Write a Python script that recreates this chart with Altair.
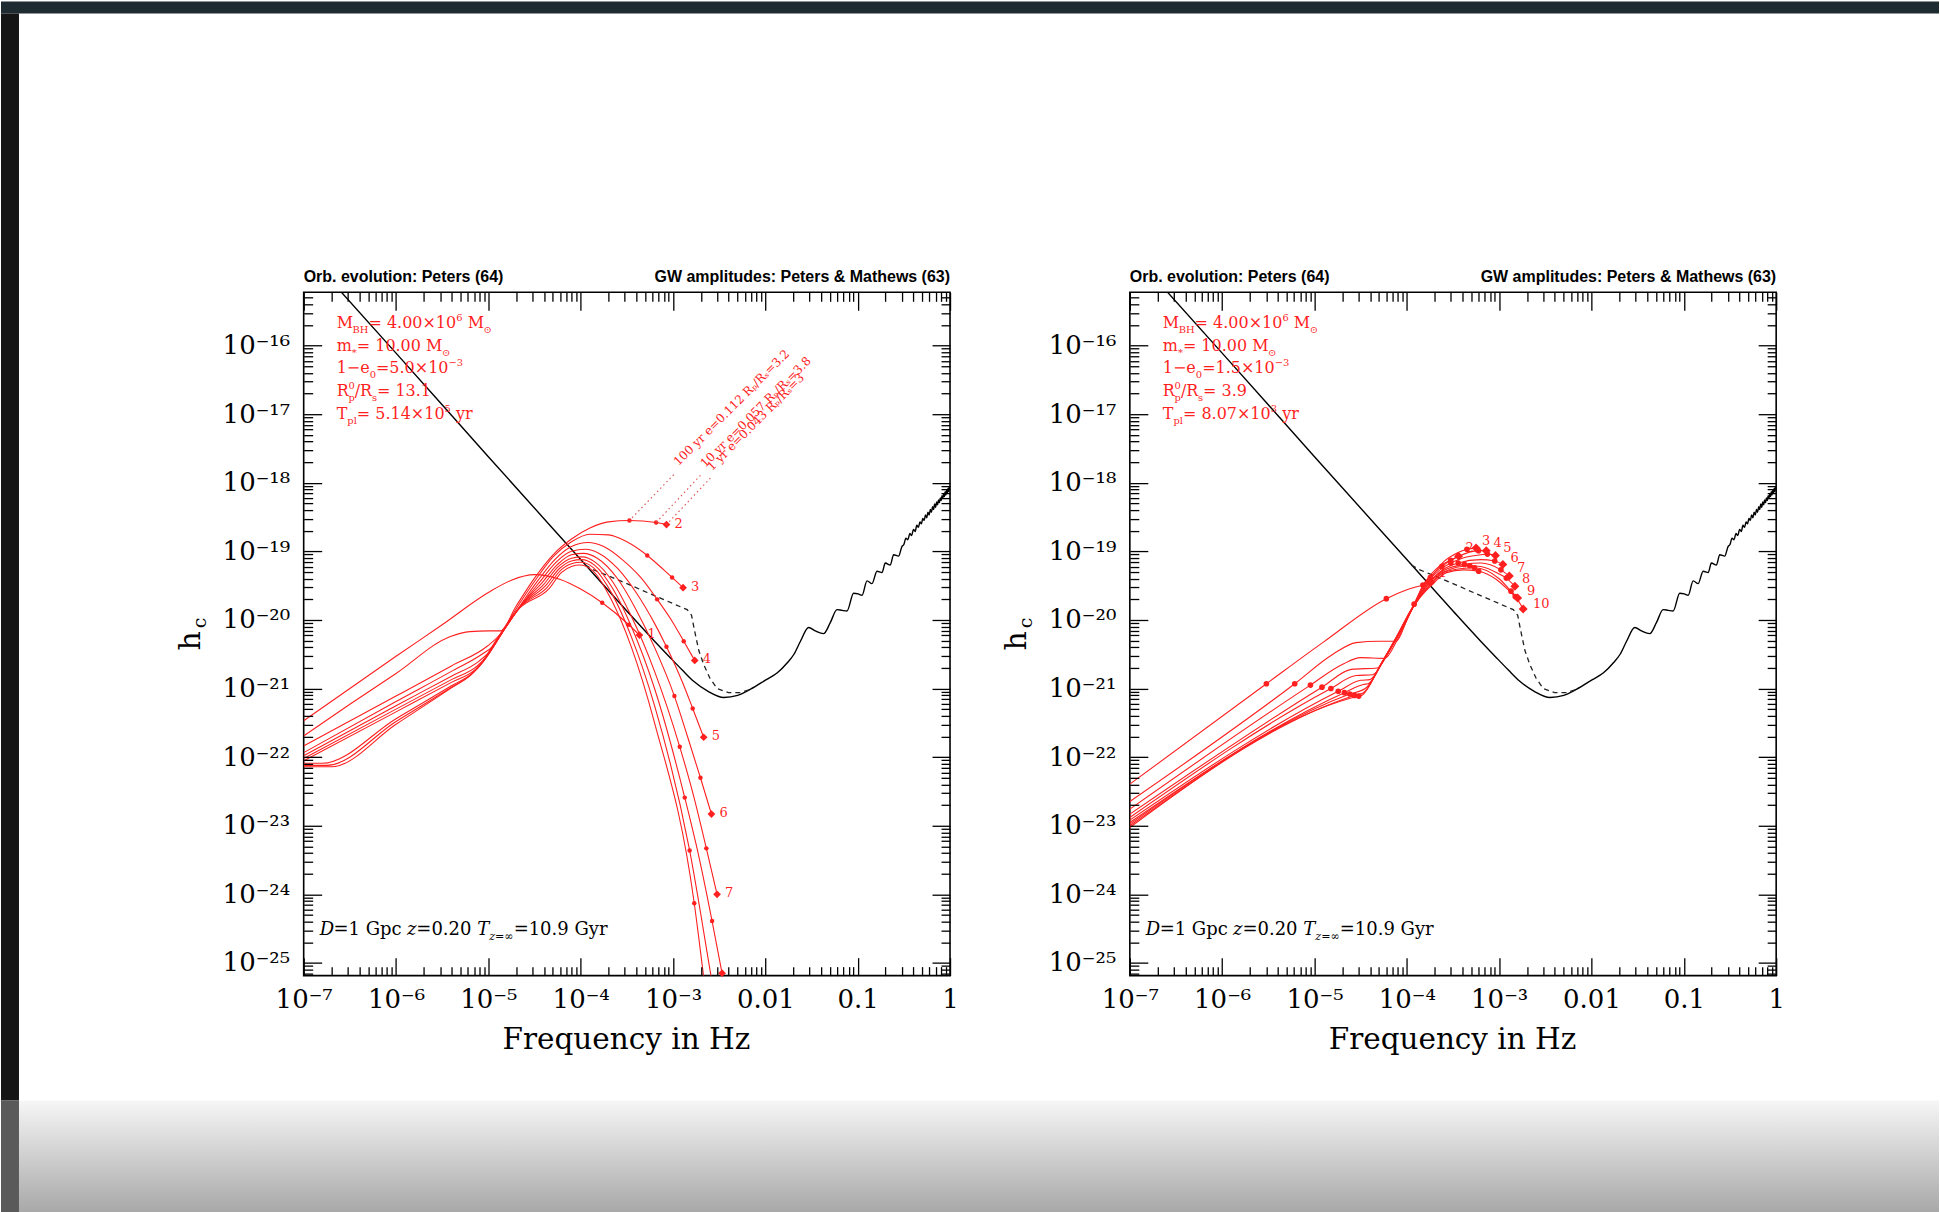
import math
import altair as alt
import pandas as pd

# ================= DATA: log10(frequency / Hz) and log10(h_c) =================
SENS_LOGF = [-6.60, -6.00, -5.00, -4.00, -3.50, -3.20, -3.03, -2.90, -2.78, -2.62, -2.45, -2.30, -2.16,
             -1.99, -1.87, -1.76, -1.69, -1.62, -1.531, -1.459, -1.369, -1.297, -1.224, -1.170, -1.116,
             -1.044, -0.995, -0.953, -0.899, -0.845, -0.791, -0.737, -0.701, -0.647, -0.611, -0.557, -0.521,
             -0.500, -0.478, -0.456, -0.436, -0.415, -0.396, -0.377, -0.360, -0.342, -0.326, -0.310, -0.295,
             -0.280, -0.266, -0.252, -0.239, -0.226, -0.213, -0.201, -0.189, -0.178, -0.167, -0.156, -0.145,
             -0.135, -0.125, -0.115, -0.106, -0.097, -0.087, -0.078, -0.069, -0.061, -0.053, -0.045, -0.037,
             -0.029, -0.021, -0.014, -0.007, 0.0]
SENS_LOGH = [-15.21, -16.11, -17.62, -19.12, -19.87, -20.31, -20.55, -20.73, -20.89, -21.04, -21.13, -21.10, -21.01,
             -20.87, -20.77, -20.62, -20.50, -20.31, -20.11, -20.16, -20.20, -20.04, -19.85, -19.86, -19.87,
             -19.61, -19.62, -19.64, -19.43, -19.47, -19.29, -19.31, -19.17, -19.20, -19.05, -19.07, -18.93,
             -18.90, -18.81, -18.83, -18.74, -18.77, -18.68, -18.71, -18.62, -18.65, -18.57, -18.60, -18.52,
             -18.55, -18.47, -18.51, -18.43, -18.47, -18.39, -18.43, -18.35, -18.39, -18.31, -18.36, -18.28,
             -18.32, -18.25, -18.29, -18.22, -18.26, -18.19, -18.23, -18.16, -18.20, -18.13, -18.18, -18.11,
             -18.15, -18.08, -18.13, -18.06, -18.10]

DASH_LOGF = [-3.95, -3.858, -3.50, -3.28, -2.847, -2.80, -2.76, -2.72, -2.668, -2.60, -2.523, -2.40, -2.271, -2.16]
DASH_LOGH = [-19.20, -19.27, -19.47, -19.60, -19.85, -19.93, -20.20, -20.45, -20.65, -20.85, -21.00, -21.06, -21.06, -21.01]

# ---- left panel harmonics n = 1..10 ----
L1_LOGF = [-7.0, -6.5, -6.0, -5.5, -5.0, -4.75, -4.5, -4.22, -4.0, -3.767, -3.479, -3.364]
L1_LOGH = [-21.47, -21.0, -20.53, -20.07, -19.6, -19.42, -19.34, -19.41, -19.55, -19.75, -20.07, -20.22]
L2_LOGF = [-7.0, -6.5, -6.0, -5.41, -5.2, -5.0, -4.87, -4.7, -4.5, -4.3, -4.1, -3.9, -3.7, -3.472, -3.183, -3.071]
L2_LOGH = [-21.69, -21.23, -20.78, -20.24, -20.17, -20.16, -20.16, -19.80, -19.39, -19.05, -18.82, -18.66, -18.57, -18.55, -18.58, -18.61]
L3_LOGF = [-7.0, -6.0, -5.4, -5.01, -4.86, -4.7, -4.48, -4.3, -4.1, -3.9, -3.7, -3.5, -3.279, -3.1, -3.01, -2.891]
L3_LOGH = [-21.837, -21.11, -20.67, -20.38, -20.19, -19.84, -19.40, -19.08, -18.86, -18.75, -18.76, -18.86, -19.06, -19.27, -19.38, -19.53]
L4_LOGF = [-7.0, -6.0, -5.4, -5.07, -4.95, -4.8, -4.62, -4.46, -4.28, -4.1, -3.92, -3.75, -3.55, -3.35, -3.172, -3.0, -2.884, -2.765]
L4_LOGH = [-21.934, -21.19, -20.75, -20.50, -20.38, -20.08, -19.72, -19.42, -19.12, -18.93, -18.87, -18.93, -19.12, -19.38, -19.70, -20.04, -20.31, -20.59]
L5_LOGF = [-7.0, -6.0, -5.4, -5.10, -4.98, -4.82, -4.62, -4.44, -4.26, -4.1, -3.95, -3.8, -3.6, -3.4, -3.2, -3.071, -2.9, -2.787, -2.668]
L5_LOGH = [-21.98, -21.25, -20.82, -20.60, -20.45, -20.12, -19.74, -19.44, -19.15, -19.0, -18.97, -19.03, -19.25, -19.6, -20.05, -20.39, -20.9, -21.29, -21.71]
L6_LOGF = [-7.0, -6.0, -5.4, -5.12, -5.0, -4.84, -4.63, -4.42, -4.25, -4.1, -3.97, -3.82, -3.6, -3.4, -3.2, -2.985, -2.85, -2.703, -2.584]
L6_LOGH = [-22.02, -21.30, -20.87, -20.67, -20.50, -20.16, -19.76, -19.46, -19.19, -19.05, -19.03, -19.1, -19.4, -19.85, -20.4, -21.11, -21.67, -22.30, -22.83]
L7_LOGF = [-7.0, -6.0, -5.4, -5.14, -5.02, -4.85, -4.64, -4.40, -4.24, -4.1, -3.98, -3.84, -3.65, -3.45, -3.2, -2.927, -2.78, -2.639, -2.523]
L7_LOGH = [-22.055, -21.34, -20.91, -20.72, -20.54, -20.19, -19.78, -19.48, -19.22, -19.1, -19.08, -19.16, -19.45, -19.95, -20.75, -21.85, -22.55, -23.33, -24.0]
L8_LOGF = [-7.0, -6.8, -6.0, -5.4, -5.16, -5.04, -4.87, -4.65, -4.38, -4.23, -4.1, -3.99, -3.85, -3.65, -3.45, -3.2, -2.873, -2.72, -2.577, -2.469]
L8_LOGH = [-22.09, -22.09, -21.44, -20.96, -20.76, -20.58, -20.22, -19.80, -19.5, -19.25, -19.14, -19.12, -19.2, -19.55, -20.1, -21.0, -22.59, -23.45, -24.39, -25.15]
L9_LOGF = [-7.0, -6.75, -6.0, -5.4, -5.17, -5.05, -4.88, -4.66, -4.36, -4.22, -4.1, -4.0, -3.86, -3.66, -3.45, -3.2, -2.82, -2.59, -2.55]
L9_LOGH = [-22.12, -22.12, -21.48, -20.98, -20.78, -20.60, -20.24, -19.82, -19.52, -19.28, -19.18, -19.16, -19.24, -19.62, -20.25, -21.25, -23.36, -25.18, -25.5]
L10_LOGF = [-7.0, -6.7, -6.0, -5.4, -5.19, -5.07, -4.9, -4.67, -4.34, -4.21, -4.1, -4.01, -3.87, -3.67, -3.45, -3.2, -2.77, -2.67, -2.63]
L10_LOGH = [-22.14, -22.14, -21.52, -20.99, -20.80, -20.62, -20.26, -19.84, -19.54, -19.31, -19.22, -19.2, -19.28, -19.7, -20.4, -21.5, -24.13, -25.18, -25.6]

LDOT_LOGF = [-3.767, -3.479, -3.472, -3.183, -3.279, -3.01, -3.172, -2.884, -3.071, -2.787,
             -2.985, -2.703, -2.927, -2.639, -2.873, -2.577, -2.82, -2.77]
LDOT_LOGH = [-19.75, -20.07, -18.55, -18.58, -19.06, -19.38, -19.70, -20.31, -20.39, -21.29,
             -21.11, -22.30, -21.85, -23.33, -22.59, -24.39, -23.36, -24.13]
LEND_LOGF = [-3.364, -3.071, -2.891, -2.765, -2.668, -2.584, -2.523, -2.469]
LEND_LOGH = [-20.22, -18.61, -19.53, -20.59, -21.71, -22.83, -24.0, -25.15]
LEND_LABEL = ["1", "2", "3", "4", "5", "6", "7", ""]

# time-marker call-outs on the n=2 curve (left panel)
CONN_LOGF1 = [-2.992, -2.703, -2.595]
CONN_LOGH1 = [-17.882, -17.892, -17.932]
CONN_LOGF2 = [-3.472, -3.183, -3.071]
CONN_LOGH2 = [-18.55, -18.58, -18.61]
ROT_TEXT = ["100 yr e=0.112 Rₚ/Rₛ=3.2", "10 yr e=0.057 Rₚ/Rₛ=3.8", "1 yr e=0.043 Rₚ/Rₛ=3"]
ROT_LOGF = [-2.942, -2.650, -2.577]
ROT_LOGH = [-17.76, -17.786, -17.834]

# ---- right panel harmonics n = 1..10 ----
R1_LOGF = [-7.0, -5.521, -4.9, -4.222, -4.0, -3.826, -3.74]
R1_LOGH = [-22.394, -20.93, -20.32, -19.69, -19.56, -19.49, -19.45]
R2_LOGF = [-7.0, -5.214, -4.8, -4.55, -4.3, -4.115, -4.0, -3.921, -3.8, -3.65, -3.525, -3.44]
R2_LOGH = [-22.647, -20.93, -20.5, -20.33, -20.31, -20.31, -20.0, -19.77, -19.45, -19.22, -19.13, -19.07]
R3_LOGF = [-7.0, -5.044, -4.7, -4.5, -4.24, -4.1, -3.93, -3.8, -3.745, -3.6, -3.45, -3.349, -3.25]
R3_LOGH = [-22.758, -20.95, -20.65, -20.55, -20.56, -20.28, -19.8, -19.44, -19.38, -19.15, -19.02, -18.97, -18.95]
R4_LOGF = [-7.0, -4.919, -4.6, -4.32, -4.2, -4.05, -3.92, -3.79, -3.62, -3.45, -3.224, -3.14]
R4_LOGH = [-22.831, -20.98, -20.72, -20.70, -20.48, -20.12, -19.78, -19.45, -19.22, -19.08, -18.99, -18.99]
R5_LOGF = [-7.0, -4.822, -4.55, -4.37, -4.22, -4.06, -3.92, -3.78, -3.6, -3.523, -3.4, -3.2, -3.127, -3.04]
R5_LOGH = [-22.879, -21.0, -20.81, -20.80, -20.52, -20.14, -19.79, -19.46, -19.23, -19.17, -19.1, -19.05, -19.04, -19.06]
R6_LOGF = [-7.0, -4.743, -4.5, -4.4, -4.24, -4.07, -3.93, -3.77, -3.6, -3.444, -3.2, -3.048, -2.96]
R6_LOGH = [-22.918, -21.04, -20.88, -20.87, -20.55, -20.16, -19.80, -19.47, -19.26, -19.17, -19.12, -19.14, -19.19]
R7_LOGF = [-7.0, -4.676, -4.47, -4.42, -4.25, -4.08, -3.93, -3.76, -3.6, -3.377, -3.2, -2.981, -2.89]
R7_LOGH = [-22.953, -21.06, -20.94, -20.93, -20.58, -20.18, -19.81, -19.47, -19.28, -19.19, -19.17, -19.27, -19.36]
R8_LOGF = [-7.0, -4.618, -4.45, -4.26, -4.09, -3.94, -3.75, -3.6, -3.319, -3.2, -3.0, -2.923, -2.83]
R8_LOGH = [-22.976, -21.08, -21.0, -20.6, -20.2, -19.82, -19.48, -19.3, -19.21, -19.22, -19.33, -19.39, -19.51]
R9_LOGF = [-7.0, -4.567, -4.47, -4.27, -4.1, -3.94, -3.74, -3.6, -3.4, -3.268, -3.0, -2.872, -2.8]
R9_LOGH = [-23.001, -21.10, -21.06, -20.62, -20.22, -19.83, -19.48, -19.31, -19.25, -19.24, -19.4, -19.58, -19.68]
R10_LOGF = [-7.0, -4.521, -4.49, -4.28, -4.11, -3.95, -3.73, -3.57, -3.39, -3.222, -3.03, -2.85, -2.826, -2.74]
R10_LOGH = [-23.026, -21.11, -21.1, -20.64, -20.24, -19.84, -19.49, -19.31, -19.27, -19.29, -19.41, -19.63, -19.66, -19.84]

RDOT_LOGF = [-5.521, -4.222, -3.826, -5.214, -3.921, -3.525, -5.044, -3.745, -3.349, -4.919, -3.62, -3.224,
             -4.822, -3.523, -3.127, -4.743, -3.444, -3.048, -4.676, -3.377, -2.981, -4.618, -3.319, -2.923,
             -4.567, -3.268, -2.872, -4.521, -3.222, -2.826]
RDOT_LOGH = [-20.93, -19.69, -19.49, -20.93, -19.77, -19.13, -20.95, -19.38, -18.97, -20.98, -19.22, -18.99,
             -21.0, -19.17, -19.04, -21.04, -19.17, -19.14, -21.06, -19.19, -19.27, -21.08, -19.21, -19.39,
             -21.10, -19.24, -19.58, -21.11, -19.29, -19.66]
REND_LOGF = [-3.74, -3.44, -3.25, -3.14, -3.04, -2.96, -2.89, -2.83, -2.80, -2.74]
REND_LOGH = [-19.45, -19.07, -18.95, -18.99, -19.06, -19.19, -19.36, -19.51, -19.68, -19.84]
# where the harmonic numbers are written (arc around the end points)
RLAB_TEXT = ["1", "2", "3", "4", "5", "6", "7", "8", "9", "10"]
RLAB_LOGF = [-3.613, -3.320, -3.140, -3.017, -2.912, -2.833, -2.761, -2.707, -2.653, -2.544]
RLAB_LOGH = [-19.314, -18.951, -18.843, -18.878, -18.951, -19.096, -19.242, -19.410, -19.581, -19.774]

X_TICK_LABELS = ["10⁻⁷", "10⁻⁶", "10⁻⁵", "10⁻⁴", "10⁻³", "0.01", "0.1", "1"]
Y_TICK_LABELS = ["10⁻²⁵", "10⁻²⁴", "10⁻²³", "10⁻²²", "10⁻²¹", "10⁻²⁰", "10⁻¹⁹", "10⁻¹⁸", "10⁻¹⁷", "10⁻¹⁶"]

# ================= styling / layout =================
W, H = 647, 684
LOGY_MIN, LOGY_MAX = -25.185, -15.224
RED = "#ff1f1f"
SERIF = "DejaVu Serif"
XS = alt.Scale(type="log", domain=[1e-7, 1.0], nice=False)
YS = alt.Scale(type="log", domain=[10 ** LOGY_MIN, 10 ** LOGY_MAX], nice=False)
DUMMY = pd.DataFrame({"k": [0]})


def curves_df(pairs):
    rows = []
    for cid, (lf, lh) in enumerate(pairs, start=1):
        for i, (a, b) in enumerate(zip(lf, lh)):
            rows.append({"f": 10 ** a, "h": 10 ** b, "id": cid, "i": i})
    return pd.DataFrame(rows)


def pts_df(lf, lh, labels=None):
    d = pd.DataFrame({"f": [10 ** a for a in lf], "h": [10 ** b for b in lh]})
    if labels is not None:
        d["lab"] = labels
    return d


CW = {" ": .318, ".": .318, "=": .838, "×": .838, "−": .838, "-": .338, "/": .337, "*": .5, "(": .39, ")": .39,
      "M": .995, "B": .734, "H": .872, "R": .735, "T": .667, "D": .77, "G": .775, "⊙": .8, "∞": .833,
      "p": .64, "l": .32, "s": .513, "e": .592, "m": .948, "y": .592, "r": .478, "c": .556, "z": .525}


def tw(s):
    return sum(CW.get(ch, .636) for ch in s)


def rich(x0, y0, segs, size, color):
    rows, x = [], x0
    for txt, kind in segs:
        if kind in ("n", "i"):
            s, dy = size, 0.0
        elif kind in ("sub", "isub"):
            s, dy = size * 0.62, size * 0.30
        else:
            s, dy = size * 0.62, -size * 0.45
        body = txt.lstrip(" ")
        lead = (len(txt) - len(body)) * CW[" "] * s
        rows.append({"x": x + lead, "y": y0 + dy, "t": body, "s": s, "it": kind in ("i", "isub"), "c": color})
        if kind != "sup0":
            x += tw(txt) * s
    return rows


def annot_rows(e0, rp, tpl, tpl_exp):
    size, x0 = 16, 33
    ys = [36, 59, 81, 104, 127]
    rows = []
    rows += rich(x0, ys[0], [("M", "n"), ("BH", "sub"), ("= 4.00×10", "n"), ("6", "sup"), (" M", "n"), ("⊙", "sub")], size, RED)
    rows += rich(x0, ys[1], [("m", "n"), ("*", "sub"), ("= 10.00 M", "n"), ("⊙", "sub")], size, RED)
    rows += rich(x0, ys[2], [("1−e", "n"), ("0", "sub"), ("=" + e0 + "×10", "n"), ("−3", "sup")], size, RED)
    rows += rich(x0, ys[3], [("R", "n"), ("0", "sup0"), ("p", "sub"), ("/R", "n"), ("s", "sub"), ("= " + rp, "n")], size, RED)
    rows += rich(x0, ys[4], [("T", "n"), ("pl", "sub"), ("= " + tpl + "×10", "n"), (tpl_exp, "sup"), (" yr", "n")], size, RED)
    rows += rich(16, 643, [("D", "i"), ("=1 Gpc ", "n"), ("z", "i"), ("=0.20 ", "n"), ("T", "i"),
                           ("z=∞", "isub"), ("=10.9 Gyr", "n")], 18, "black")
    return pd.DataFrame(rows)


XLAB = "[" + ",".join("'%s'" % s for s in X_TICK_LABELS) + "][round(log(datum.value)/LN10)+7]"
YLAB = "[" + ",".join("'%s'" % s for s in Y_TICK_LABELS) + "][round(log(datum.value)/LN10)+25]"
DEC_X = [10.0 ** e for e in range(-7, 1)]
MIN_X = [k * 10.0 ** e for e in range(-7, 0) for k in range(2, 10)]
DEC_Y = [10.0 ** e for e in range(-25, -15)]
MIN_Y = [k * 10.0 ** e for e in range(-26, -15) for k in range(2, 10)
         if LOGY_MIN < math.log10(k * 10.0 ** e) < LOGY_MAX]


def axis(orient, kind, channel):
    vals = (DEC_X if kind != "minor" else MIN_X) if channel == "x" else (DEC_Y if kind != "minor" else MIN_Y)
    common = dict(orient=orient, values=vals, grid=False, domain=False, title=None, zindex=1)
    if kind == "label":
        return alt.Axis(**common, ticks=False, labels=True, labelExpr=XLAB if channel == "x" else YLAB,
                        labelFont=SERIF, labelFontSize=26, labelColor="black",
                        labelPadding=11 if channel == "x" else 14, labelFlush=False, labelOverlap=False)
    size = 18 if kind == "major" else 9
    return alt.Axis(**common, ticks=True, tickSize=size, offset=-size, labels=False,
                    tickColor="black", tickWidth=1.3)


sens_df = pts_df(SENS_LOGF, SENS_LOGH)
sens_df["i"] = range(len(sens_df))
dash_df = pts_df(DASH_LOGF, DASH_LOGH)
dash_df["i"] = range(len(dash_df))


def carrier(xa, ya):
    return alt.Chart(sens_df).mark_line(opacity=0).encode(
        x=alt.X("f:Q", scale=XS, axis=xa), y=alt.Y("h:Q", scale=YS, axis=ya))


def vtext(txt, x, y, size, angle=0, align="center", font=SERIF, color="black", weight="normal"):
    return alt.Chart(DUMMY).mark_text(text=txt, font=font, fontSize=size, angle=angle, align=align,
                                      baseline="middle", color=color, fontWeight=weight).encode(
        x=alt.value(x), y=alt.value(y))


def vrect(x1, x2, y1, y2, color, opacity=1.0):
    return alt.Chart(DUMMY).mark_rect(color=color, opacity=opacity).encode(
        x=alt.value(x1), x2=alt.value(x2), y=alt.value(y1), y2=alt.value(y2))


def XE(field="f"):
    return alt.X(field + ":Q", scale=XS, axis=None)


def YE(field="h"):
    return alt.Y(field + ":Q", scale=YS, axis=None)


def panel(left):
    layers = []
    if left:
        # invisible frame that fixes the canvas at 1940 x 1212 with the plot origin at (303, 291)
        layers.append(vrect(-303, 1637, -291, 921, "#ffffff", opacity=0))
        # slide decoration around the figure (outside the plot areas)
        layers.append(vrect(-303, 1637, -291, -279, "#1e2b31"))
        layers.append(vrect(-303, -285, -279, 809, "#151515"))
        grad = alt.Gradient(gradient="linear", x1=0, x2=0, y1=0, y2=1,
                            stops=[alt.GradientStop(color="#f6f6f6", offset=0),
                                   alt.GradientStop(color="#a8a8a8", offset=1)])
        layers.append(alt.Chart(DUMMY).mark_rect(color=grad).encode(
            x=alt.value(-285), x2=alt.value(1637), y=alt.value(809), y2=alt.value(921)))
        layers.append(vrect(-303, -285, 809, 921, "#5a5a5a"))

    if left:
        pairs = [(L1_LOGF, L1_LOGH), (L2_LOGF, L2_LOGH), (L3_LOGF, L3_LOGH), (L4_LOGF, L4_LOGH),
                 (L5_LOGF, L5_LOGH), (L6_LOGF, L6_LOGH), (L7_LOGF, L7_LOGH), (L8_LOGF, L8_LOGH),
                 (L9_LOGF, L9_LOGH), (L10_LOGF, L10_LOGH)]
        dots = pts_df(LDOT_LOGF, LDOT_LOGH)
        ends = pts_df(LEND_LOGF, LEND_LOGH)
        labs = pts_df(LEND_LOGF, LEND_LOGH, LEND_LABEL)
        ann = annot_rows("5.0", "13.1", "5.14", "5")
        dsize, esize = 20, 60
    else:
        pairs = [(R1_LOGF, R1_LOGH), (R2_LOGF, R2_LOGH), (R3_LOGF, R3_LOGH), (R4_LOGF, R4_LOGH),
                 (R5_LOGF, R5_LOGH), (R6_LOGF, R6_LOGH), (R7_LOGF, R7_LOGH), (R8_LOGF, R8_LOGH),
                 (R9_LOGF, R9_LOGH), (R10_LOGF, R10_LOGH)]
        dots = pts_df(RDOT_LOGF, RDOT_LOGH)
        ends = pts_df(REND_LOGF, REND_LOGH)
        labs = pts_df(RLAB_LOGF, RLAB_LOGH, RLAB_TEXT)
        ann = annot_rows("1.5", "3.9", "8.07", "3")
        dsize, esize = 32, 80

    layers.append(alt.Chart(sens_df).mark_line(color="black", strokeWidth=1.4, clip=True,
                                               interpolate="monotone").encode(x=XE(), y=YE(), order="i:Q"))
    layers.append(alt.Chart(dash_df).mark_line(color="#222222", strokeWidth=1.3, strokeDash=[5, 4],
                                               clip=True).encode(x=XE(), y=YE(), order="i:Q"))
    layers.append(alt.Chart(curves_df(pairs)).mark_line(color=RED, strokeWidth=1.1, clip=True,
                                                        interpolate="monotone").encode(
        x=XE(), y=YE(), detail="id:N", order="i:Q"))
    layers.append(alt.Chart(dots).mark_circle(color=RED, size=dsize, opacity=1, clip=True).encode(
        x=XE(), y=YE()))
    layers.append(alt.Chart(ends).mark_point(shape="diamond", filled=True, color=RED, size=esize,
                                             opacity=1).encode(x=XE(), y=YE()))
    if left:
        layers.append(alt.Chart(labs).mark_text(color=RED, font=SERIF, fontSize=13, align="left",
                                                baseline="middle", dx=8, dy=-1).encode(
            x=XE(), y=YE(), text="lab:N"))
    else:
        layers.append(alt.Chart(labs).mark_text(color=RED, font=SERIF, fontSize=13, align="center",
                                                baseline="middle").encode(
            x=XE(), y=YE(), text="lab:N"))

    if left:
        conn = pd.DataFrame({"f1": [10 ** a for a in CONN_LOGF1], "h1": [10 ** b for b in CONN_LOGH1],
                             "f2": [10 ** a for a in CONN_LOGF2], "h2": [10 ** b for b in CONN_LOGH2]})
        layers.append(alt.Chart(conn).mark_rule(color="#e05a5a", strokeWidth=1.2, strokeDash=[1.5, 3]).encode(
            x=XE("f1"), y=YE("h1"), x2="f2:Q", y2="h2:Q"))
        rot = pts_df(ROT_LOGF, ROT_LOGH, ROT_TEXT)
        layers.append(alt.Chart(rot).mark_text(color=RED, font=SERIF, fontSize=12, angle=315, align="left",
                                               baseline="alphabetic").encode(x=XE(), y=YE(), text="lab:N"))

    # annotation text (normal and italic pieces)
    for italic in (False, True):
        sub = ann[ann["it"] == italic]
        if len(sub):
            layers.append(alt.Chart(sub).mark_text(font=SERIF, align="left", baseline="alphabetic",
                                                   fontStyle="italic" if italic else "normal").encode(
                x=alt.X("x:Q", scale=None, axis=None), y=alt.Y("y:Q", scale=None, axis=None),
                text="t:N", size=alt.Size("s:Q", scale=None, legend=None),
                color=alt.Color("c:N", scale=None, legend=None)))

    # headers and axis titles
    layers.append(vtext("Orb. evolution: Peters (64)", 0, -15, 16, align="left", font="Liberation Sans",
                        weight="bold"))
    layers.append(vtext("GW amplitudes: Peters & Mathews (63)", W, -15, 16, align="right",
                        font="Liberation Sans", weight="bold"))
    layers.append(vtext("Frequency in Hz", 323, 748, 29.5))
    layers.append(vtext("h", -113, 349, 30, angle=270))
    layers.append(vtext("c", -104, 331, 19, angle=270))

    # axes: labels, major and minor ticks on all four sides
    layers.append(carrier(axis("bottom", "label", "x"), axis("left", "label", "y")))
    layers.append(carrier(axis("bottom", "major", "x"), axis("left", "major", "y")))
    layers.append(carrier(axis("bottom", "minor", "x"), axis("left", "minor", "y")))
    layers.append(carrier(axis("top", "major", "x"), axis("right", "major", "y")))
    layers.append(carrier(axis("top", "minor", "x"), axis("right", "minor", "y")))

    return alt.layer(*layers).resolve_axis(x="independent", y="independent").properties(width=W, height=H)


chart = alt.hconcat(panel(True), panel(False), spacing=180, bounds="flush").configure_view(
    stroke="black", strokeWidth=1.6).properties(padding=0, background="white")

chart.save("out.html", embed_options={"renderer": "svg", "actions": False})
